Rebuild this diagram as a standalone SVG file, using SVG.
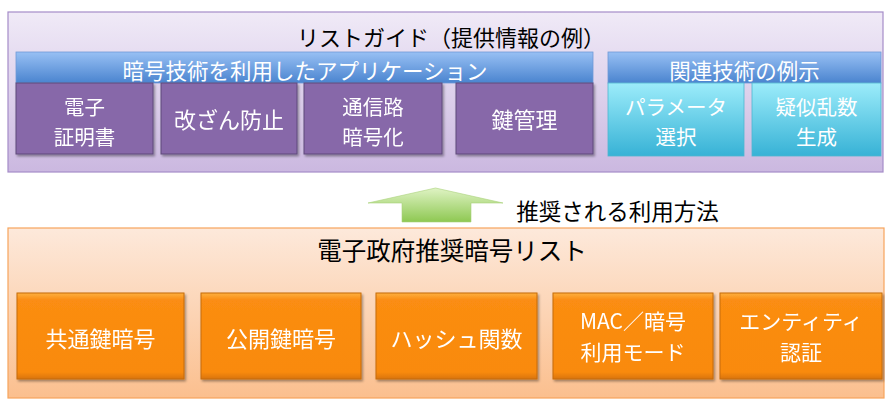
<svg xmlns="http://www.w3.org/2000/svg" width="885" height="399" viewBox="0 0 885 399">
<defs>
<linearGradient id="gPurpleBg" x1="0" y1="0" x2="0" y2="1"><stop offset="0" stop-color="#f0eaf7"/><stop offset="1" stop-color="#cbb8e0"/></linearGradient>
<linearGradient id="gOrangeBg" x1="0" y1="0" x2="0" y2="1"><stop offset="0" stop-color="#fde9db"/><stop offset="1" stop-color="#fbbf8e"/></linearGradient>
<linearGradient id="gBlue" x1="0" y1="0" x2="0" y2="1"><stop offset="0" stop-color="#98c0f4"/><stop offset="1" stop-color="#4a84cf"/></linearGradient>
<linearGradient id="gCyan" x1="0" y1="0" x2="0" y2="1"><stop offset="0" stop-color="#9cecfa"/><stop offset="1" stop-color="#37b2d6"/></linearGradient>
<linearGradient id="gOrange" x1="0" y1="0" x2="0" y2="1"><stop offset="0" stop-color="#fdb040"/><stop offset="0.08" stop-color="#fb8d12"/><stop offset="0.92" stop-color="#f98a0c"/><stop offset="1" stop-color="#d9740a"/></linearGradient>
<linearGradient id="gGreen" x1="0" y1="0" x2="0" y2="1"><stop offset="0" stop-color="#dff3c4"/><stop offset="1" stop-color="#8ec852"/></linearGradient>
<filter id="sh" x="-10%" y="-10%" width="120%" height="130%"><feDropShadow dx="1.5" dy="2" stdDeviation="1.2" flood-color="#000" flood-opacity="0.35"/></filter>
</defs>
<style>
text{font-family:"Noto Sans CJK JP","Noto Sans",sans-serif;text-anchor:middle}
.t{fill:#fff;font-size:22px}
.t2{fill:#fff;font-size:20.5px}
.t3{fill:#fff;font-size:21px}
.h{fill:#000;font-size:22px}
.p{fill:#8767a9;stroke:#5f4a7a;stroke-width:1}
.c{fill:url(#gCyan);stroke:#4fb6cf;stroke-width:0.8}
.o{fill:url(#gOrange);stroke:#c56b0c;stroke-width:1}
.b{fill:url(#gBlue);stroke:#6f9ad6;stroke-width:0.8}
</style>
<g id="guide">
<rect x="8" y="12" width="875" height="160" fill="url(#gPurpleBg)" stroke="#a58cc8" stroke-width="1.2"/>
<text class="h" x="451" y="46">リストガイド（提供情報の例）</text>
</g>
<g id="appHeader">
<rect class="b" x="16" y="52" width="577" height="31"/>
<text class="t" x="305" y="79" style="font-size:21.5px">暗号技術を利用したアプリケーション</text>
</g>
<g id="n1" filter="url(#sh)">
<rect class="p" x="16" y="83" width="137" height="71"/>
<text class="t2" x="84.5" y="114.5">電子</text>
<text class="t2" x="84.5" y="144.5">証明書</text>
</g>
<g id="n2" filter="url(#sh)">
<rect class="p" x="161" y="83" width="136" height="71"/>
<text class="t" x="229" y="128">改ざん防止</text>
</g>
<g id="n3" filter="url(#sh)">
<rect class="p" x="304" y="83" width="138" height="71"/>
<text class="t2" x="373" y="114.5">通信路</text>
<text class="t2" x="373" y="144.5">暗号化</text>
</g>
<g id="n4" filter="url(#sh)">
<rect class="p" x="456" y="83" width="137" height="71"/>
<text class="t" x="524.5" y="128">鍵管理</text>
</g>
<g id="relHeader">
<rect class="b" x="608" y="52" width="273" height="31"/>
<text class="t" x="744.5" y="79" style="font-size:21.5px">関連技術の例示</text>
</g>
<g id="n5">
<rect class="c" x="608" y="83" width="136" height="73"/>
<text class="t2" x="676" y="114.5">パラメータ</text>
<text class="t2" x="676" y="144.5">選択</text>
</g>
<g id="n6">
<rect class="c" x="752" y="83" width="129" height="73"/>
<text class="t2" x="816.5" y="114.5">疑似乱数</text>
<text class="t2" x="816.5" y="144.5">生成</text>
</g>
<g id="connectors">
<path d="M368,203 L435.5,188 L503,203 L471,203 L471,222 L402,222 L402,203 Z" fill="url(#gGreen)" stroke="#a9d27a" stroke-width="0.6"/>
<text x="617.5" y="220" style="fill:#000;font-size:22.5px">推奨される利用方法</text>
</g>
<g id="list">
<rect x="8" y="228" width="876" height="170" fill="url(#gOrangeBg)" stroke="#f7a45c" stroke-width="1.2"/>
<text class="h" x="452" y="260" style="font-size:24.5px">電子政府推奨暗号リスト</text>
</g>
<g id="o1" filter="url(#sh)">
<rect class="o" x="17" y="293" width="167" height="86"/>
<text class="t" x="100.5" y="347">共通鍵暗号</text>
</g>
<g id="o2" filter="url(#sh)">
<rect class="o" x="201" y="293" width="160" height="86"/>
<text class="t" x="281" y="347">公開鍵暗号</text>
</g>
<g id="o3" filter="url(#sh)">
<rect class="o" x="376" y="293" width="161" height="86"/>
<text class="t" x="456.5" y="347">ハッシュ関数</text>
</g>
<g id="o4" filter="url(#sh)">
<rect class="o" x="553" y="293" width="160" height="86"/>
<text class="t3" x="633" y="329">MAC／暗号</text>
<text class="t3" x="633" y="360">利用モード</text>
</g>
<g id="o5" filter="url(#sh)">
<rect class="o" x="720" y="293" width="162" height="86"/>
<text class="t3" x="801" y="329">エンティティ</text>
<text class="t3" x="801" y="360">認証</text>
</g>
</svg>
